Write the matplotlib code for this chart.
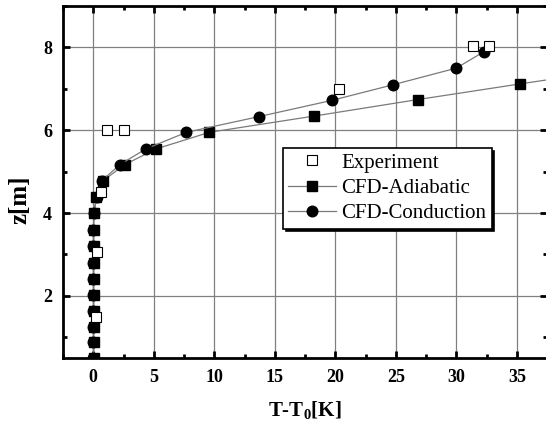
import matplotlib
matplotlib.use("Agg")
import matplotlib.pyplot as plt
from matplotlib.ticker import MultipleLocator

# Experiment (open squares)
exp_dT = [0.25, 0.3, 0.6, 1.15, 2.55, 20.3, 31.35, 32.7]
exp_z = [1.5, 3.05, 4.52, 6.0, 6.0, 7.0, 8.03, 8.03]

# CFD-Adiabatic (filled squares)
adi_dT = [0.05, 0.05, 0.05, 0.05, 0.05, 0.05, 0.05, 0.05, 0.05, 0.05,
          0.25, 0.8, 2.6, 5.2, 9.6, 18.2, 26.8, 35.3, 44.0]
adi_z = [0.5, 0.88, 1.26, 1.64, 2.02, 2.4, 2.8, 3.2, 3.6, 4.0,
         4.4, 4.78, 5.17, 5.55, 5.95, 6.34, 6.74, 7.12, 7.5]

# CFD-Conduction (filled circles)
con_dT = [0.0, 0.0, 0.0, 0.0, 0.0, 0.0, 0.0, 0.0, 0.0, 0.05,
          0.3, 0.7, 2.2, 4.35, 7.7, 13.7, 19.7, 24.8, 30.0, 32.3]
con_z = [0.5, 0.88, 1.26, 1.64, 2.02, 2.4, 2.8, 3.2, 3.6, 4.0,
         4.4, 4.78, 5.17, 5.55, 5.95, 6.33, 6.72, 7.1, 7.5, 7.9]

plt.rcParams['font.family'] = 'Liberation Serif'

fig = plt.figure(figsize=(5.46, 4.25), dpi=100)
ax = fig.add_axes([0.1154, 0.1576, 0.8866, 0.8283])

ax.plot(adi_dT, adi_z, color='#7a7a7a', lw=0.9, marker='s', ms=6.8,
        mfc='black', mec='black', label='CFD-Adiabatic', zorder=3)
ax.plot(con_dT, con_z, color='#7a7a7a', lw=0.9, marker='o', ms=7.6,
        mfc='black', mec='black', label='CFD-Conduction', zorder=4)
ax.plot(exp_dT, exp_z, ls='none', marker='s', ms=6.5, mfc='white',
        mec='black', mew=0.8, label='Experiment', zorder=5)

ax.set_xlim(-2.5, 37.5)
ax.set_ylim(0.5, 9)
ax.xaxis.set_major_locator(MultipleLocator(5))
ax.xaxis.set_minor_locator(MultipleLocator(2.5))
ax.yaxis.set_major_locator(MultipleLocator(2))
ax.yaxis.set_minor_locator(MultipleLocator(1))
ax.grid(True, which='major', color='#808080', lw=0.9)
ax.set_axisbelow(True)

ax.tick_params(which='both', direction='in', top=True, right=True,
               width=2, labelsize=13, pad=8)
ax.tick_params(which='major', length=5)
ax.tick_params(which='minor', length=3)
for lab in ax.get_xticklabels() + ax.get_yticklabels():
    lab.set_fontweight('bold')
for side in ['left', 'bottom', 'top']:
    ax.spines[side].set_linewidth(2)
ax.spines['right'].set_visible(False)

ax.set_xlabel('T-T$_\\mathregular{0}$[K]', fontsize=15, fontweight='bold')
ax.set_ylabel('z[m]', fontsize=18, fontweight='bold')
ax.xaxis.set_label_coords(0.5, -0.118)
ax.yaxis.set_label_coords(-0.065, 0.45)

# legend order: Experiment first
handles, labels = ax.get_legend_handles_labels()
order = [2, 0, 1]
leg = ax.legend([handles[i] for i in order], [labels[i] for i in order],
                loc='upper left', bbox_to_anchor=(0.4545, 0.597),
                fontsize=15, frameon=True, fancybox=False,
                shadow={'color': 'black', 'alpha': 1},
                borderpad=0.25, handlelength=2.3, handletextpad=0.25,
                labelspacing=0.28, borderaxespad=0)
leg.get_frame().set_edgecolor('black')
leg.get_frame().set_linewidth(1.2)

fig.savefig('out.png', dpi=100)
